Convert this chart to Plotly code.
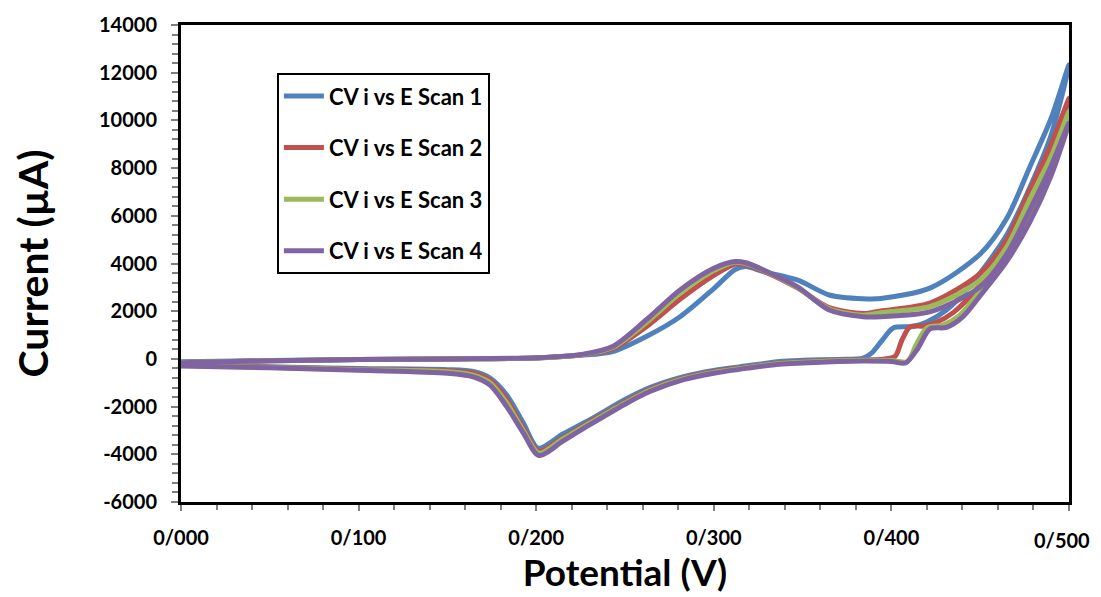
import plotly.graph_objects as go

# ---------------- data (potential in V, current in µA) ----------------
fwd_E = [0.000, 0.050, 0.100, 0.150, 0.200, 0.225, 0.243, 0.262, 0.281, 0.300,
         0.312, 0.318, 0.328, 0.347, 0.365, 0.384, 0.394, 0.422, 0.450, 0.465,
         0.478, 0.490, 0.500]

scan1_fwd_I = [-120, -70, -30, 0, 40, 150, 310, 940, 1770, 2950,
               3750, 3870, 3660, 3310, 2680, 2520, 2530, 2980, 4400, 5900,
               8060, 10100, 12330]
scan2_fwd_I = [-150, -80, -30, 0, 40, 170, 420, 1350, 2500, 3500,
               3980, 3950, 3680, 2980, 2150, 1900, 2010, 2350, 3590, 5000,
               7090, 9000, 10930]
scan3_fwd_I = [-150, -80, -30, 0, 40, 170, 480, 1520, 2750, 3700,
               4050, 4000, 3720, 3000, 2100, 1830, 1940, 2200, 3300, 4700,
               6700, 8500, 10370]
scan4_fwd_I = [-160, -80, -30, 0, 50, 180, 520, 1640, 2890, 3800,
               4080, 4030, 3730, 3030, 2050, 1770, 1770, 1980, 3020, 4400,
               6250, 8100, 9890]

scan1_rev_E = [0.500, 0.490, 0.478, 0.465, 0.450, 0.440, 0.431, 0.420, 0.412, 0.401,
               0.395, 0.389, 0.384, 0.370, 0.350, 0.337, 0.320, 0.300, 0.283, 0.264,
               0.250, 0.230, 0.215, 0.2012, 0.1927, 0.1834, 0.174, 0.1645, 0.150, 0.100,
               0.050, 0.000]
scan1_rev_I = [12330, 9400, 7200, 5200, 3600, 2700, 2050, 1550, 1360, 1300,
               800, 250, 30, -20, -60, -110, -280, -480, -740, -1200,
               -1700, -2560, -3150, -3745, -2680, -1510, -800, -530, -450, -400,
               -330, -250]

scan2_rev_E = [0.500, 0.490, 0.478, 0.465, 0.450, 0.435, 0.425, 0.418, 0.4105, 0.406,
               0.402, 0.395, 0.384, 0.370, 0.350, 0.337, 0.320, 0.300, 0.283, 0.264,
               0.250, 0.230, 0.215, 0.2015, 0.1927, 0.1834, 0.174, 0.1645, 0.150, 0.100,
               0.050, 0.000]
scan2_rev_I = [10930, 8600, 6500, 4700, 3100, 1950, 1520, 1380, 1340, 800,
               100, -10, -40, -60, -120, -170, -330, -540, -800, -1280,
               -1800, -2650, -3300, -3870, -2900, -1700, -900, -600, -500, -430,
               -350, -270]

scan3_rev_E = [0.500, 0.490, 0.478, 0.465, 0.450, 0.438, 0.429, 0.420, 0.414, 0.409,
               0.400, 0.384, 0.370, 0.350, 0.337, 0.320, 0.300, 0.283, 0.264,
               0.250, 0.230, 0.215, 0.2015, 0.1927, 0.1834, 0.174, 0.1645, 0.150, 0.100,
               0.050, 0.000]
scan3_rev_I = [10370, 8100, 6100, 4400, 2850, 1800, 1420, 1300, 600, -110,
               -70, -60, -80, -140, -190, -350, -570, -830, -1320,
               -1850, -2700, -3350, -3950, -3000, -1850, -1000, -680, -540, -450,
               -360, -280]

scan4_rev_E = [0.500, 0.490, 0.478, 0.465, 0.450, 0.440, 0.431, 0.4217, 0.415, 0.408,
               0.400, 0.384, 0.370, 0.350, 0.337, 0.320, 0.300, 0.283, 0.264,
               0.250, 0.230, 0.215, 0.2015, 0.1927, 0.1834, 0.174, 0.1645, 0.150, 0.100,
               0.050, 0.000]
scan4_rev_I = [9890, 7700, 5750, 4100, 2650, 1750, 1320, 1260, 450, -170,
               -110, -90, -110, -170, -220, -380, -600, -870, -1370,
               -1900, -2770, -3450, -4050, -3100, -2000, -1100, -750, -600, -480,
               -370, -300]

series_names = ["CV i vs E Scan 1", "CV i vs E Scan 2", "CV i vs E Scan 3", "CV i vs E Scan 4"]
series_colors = ["#4F81BD", "#C0504D", "#9BBB59", "#8064A2"]

x_tickvals = [0.0, 0.1, 0.2, 0.3, 0.4, 0.5]
x_ticktext = ["0/000", "0/100", "0/200", "0/300", "0/400", "0/500"]
y_tickvals = [-6000, -4000, -2000, 0, 2000, 4000, 6000, 8000, 10000, 12000, 14000]
y_ticktext = ["-6000", "-4000", "-2000", "0", "2000", "4000", "6000", "8000", "10000", "12000", "14000"]

# ---------------- figure ----------------
scans = [
    (scan1_fwd_I, scan1_rev_E, scan1_rev_I),
    (scan2_fwd_I, scan2_rev_E, scan2_rev_I),
    (scan3_fwd_I, scan3_rev_E, scan3_rev_I),
    (scan4_fwd_I, scan4_rev_E, scan4_rev_I),
]

FONT = "Lato, 'Open Sans', sans-serif"
TICKFONT = dict(family=FONT, size=20, color="black", weight="bold")

fig = go.Figure()
for (fI, rE, rI), name, col in zip(scans, series_names, series_colors):
    fig.add_trace(go.Scatter(
        x=fwd_E + rE[1:], y=fI + rI[1:],
        mode="lines", name=name, legendgroup=name,
        line=dict(color=col, width=5, shape="spline", smoothing=0.8),
    ))

# page body has an 8px default margin, so the figure is offset by 8px
fig.update_layout(
    width=1101, height=589,
    margin=dict(l=173, r=40, t=17, b=95, autoexpand=False),
    paper_bgcolor="white", plot_bgcolor="white",
    font=dict(family=FONT, color="black", weight="bold"),
    showlegend=True,
    legend=dict(
        x=0.108, y=0.899, xanchor="left", yanchor="top",
        bordercolor="black", borderwidth=2, bgcolor="white",
        font=dict(family=FONT, size=22, color="black", weight="bold"),
        tracegroupgap=20, traceorder="grouped", itemwidth=40,
    ),
)

# the last tick label would be cut by the window edge; draw it right-anchored at its tick
shown_ticktext = x_ticktext[:-1] + [""]
fig.add_annotation(
    x=x_tickvals[-1], xref="x", y=0, yref="paper",
    text=x_ticktext[-1], showarrow=False,
    xanchor="right", yanchor="top", xshift=23, yshift=-24,
    font=TICKFONT,
)

fig.update_xaxes(
    range=[0, 0.5], tickvals=x_tickvals, ticktext=shown_ticktext,
    automargin=False,
    showgrid=False, zeroline=False,
    showline=True, linecolor="black", linewidth=3, mirror=True,
    ticks="outside", ticklen=6, tickwidth=1.5, tickcolor="#7f7f7f",
    minor=dict(dtick=0.02, ticks="outside", ticklen=5, tickwidth=1.5, tickcolor="#7f7f7f", showgrid=False),
    tickfont=TICKFONT,
    ticklabelstandoff=10,
    title=dict(text="Potential (V)", font=dict(family=FONT, size=37, color="black", weight="bold"), standoff=13),
)
fig.update_yaxes(
    range=[-6000, 14000], tickvals=y_tickvals, ticktext=y_ticktext,
    automargin=False,
    showgrid=False, zeroline=False,
    showline=True, linecolor="black", linewidth=3, mirror=True,
    ticks="outside", ticklen=7, tickwidth=1.5, tickcolor="#7f7f7f",
    minor=dict(dtick=400, ticks="outside", ticklen=6, tickwidth=1.5, tickcolor="#7f7f7f", showgrid=False),
    tickfont=TICKFONT,
    ticklabelstandoff=10,
    title=dict(text="Current (µA)", font=dict(family=FONT, size=41, color="black", weight="bold"), standoff=52),
)

fig.write_html("out.html")
